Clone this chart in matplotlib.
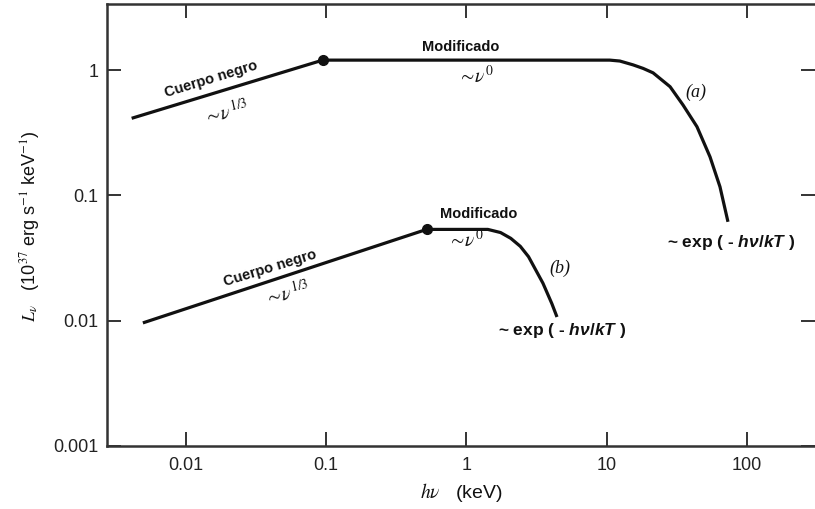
import numpy as np
import matplotlib
matplotlib.use("Agg")
import matplotlib.pyplot as plt
from matplotlib.ticker import FixedLocator, FixedFormatter, NullLocator

# custom mathtext: bold sans for the exp(-hv/kT) labels
plt.rcParams['mathtext.fontset'] = 'stix'
plt.rcParams['mathtext.rm'] = 'Liberation Sans:bold'
plt.rcParams['mathtext.it'] = 'Liberation Sans:italic:bold'
plt.rcParams['mathtext.bf'] = 'Liberation Sans:bold'
plt.rcParams['font.family'] = ['Liberation Sans', 'DejaVu Sans']

# curve (a): blackbody ~nu^1/3, flat ~nu^0, exponential cutoff
a_energy = [0.0041, 0.0944, 10.5, 12.4, 15.4, 18.2, 21.4, 28.3, 35.0, 44.0, 54.5, 64.2, 73.2]
a_lum = [0.412, 1.2, 1.2, 1.18, 1.10, 1.03, 0.95, 0.736, 0.526, 0.353, 0.203, 0.117, 0.0615]
# curve (b)
b_energy = [0.00493, 0.52, 1.42, 1.75, 2.07, 2.42, 2.77, 3.51, 4.06, 4.42]
b_lum = [0.0096, 0.0535, 0.0535, 0.0505, 0.0454, 0.0392, 0.0324, 0.0199, 0.0137, 0.0107]

x_ticks = [0.01, 0.1, 1, 10, 100]
x_labels = ['0.01', '0.1', '1', '10', '100']
y_ticks = [0.001, 0.01, 0.1, 1]
y_labels = ['0.001', '0.01', '0.1', '1']

W, H = 815, 509
fig = plt.figure(figsize=(W / 100, H / 100), dpi=100)
ax = fig.add_axes([107 / W, 1 - 446 / H, 1 - 107 / W, (446 - 4) / H])

ax.plot(a_energy, a_lum, color='#111111', lw=2.3, solid_capstyle='butt')
ax.plot(b_energy, b_lum, color='#111111', lw=2.3, solid_capstyle='butt')
ax.plot([a_energy[1], b_energy[1]], [a_lum[1], b_lum[1]], 'o', color='#111111', ms=7)

ax.set_xscale('log')
ax.set_yscale('log')
ax.set_xlim(10 ** -2.563, 10 ** 2.485)
ax.set_ylim(0.001, 10 ** 0.527)

ax.xaxis.set_major_locator(FixedLocator(x_ticks))
ax.xaxis.set_major_formatter(FixedFormatter(x_labels))
ax.yaxis.set_major_locator(FixedLocator(y_ticks))
ax.yaxis.set_major_formatter(FixedFormatter(y_labels))
ax.xaxis.set_minor_locator(NullLocator())
ax.yaxis.set_minor_locator(NullLocator())

ax.tick_params(which='major', direction='in', length=10, width=1.4, color='#333333',
               top=True, right=True, labelsize=13, labelcolor='#222222')
ax.tick_params(axis='x', pad=8)
ax.tick_params(axis='y', pad=6)
for side, sp in ax.spines.items():
    sp.set_linewidth(1.8)
    sp.set_color('#333333')
ax.spines['right'].set_visible(False)


def label(px, py, s, **kw):
    fig.text(px / W, 1 - py / H, s, ha='center', va='center', color='#111111', **kw)


sans_bold = dict(fontsize=10.5, fontweight='bold')
nu_kw = dict(fontsize=14, math_fontfamily='stix')
exp_kw = dict(fontsize=12.5, fontweight='bold', math_fontfamily='custom')
tag_kw = dict(fontsize=13, family='Liberation Serif', style='italic')

# curve (a) annotations
label(461, 47, 'Modificado', **sans_bold)
label(476, 76, r'$\sim\!\nu^{0}$', **nu_kw)
label(696, 92, '(a)', **tag_kw)
label(731, 242, r'~ exp ( - $h\nu/kT$ )', **exp_kw)
label(211, 79, 'Cuerpo negro', rotation=17, **sans_bold)
label(226, 112, r'$\sim\!\nu^{1/3}$', rotation=12, **nu_kw)

# curve (b) annotations
label(479, 214, 'Modificado', **sans_bold)
label(466, 240, r'$\sim\!\nu^{0}$', **nu_kw)
label(560, 268, '(b)', **tag_kw)
label(562, 330, r'~ exp ( - $h\nu/kT$ )', **exp_kw)
label(270, 268, 'Cuerpo negro', rotation=17, **sans_bold)
label(287, 293, r'$\sim\!\nu^{1/3}$', rotation=12, **nu_kw)

# axis titles
label(30, 226, r'$L_\nu$   (10$^{37}$ erg s$^{-1}$ keV$^{-1}$)', rotation=90,
      fontsize=13, math_fontfamily='stix')
label(461, 492, r'$h\nu$   (keV)', fontsize=14, math_fontfamily='stix')

fig.savefig('out.png', dpi=100, facecolor='white')
